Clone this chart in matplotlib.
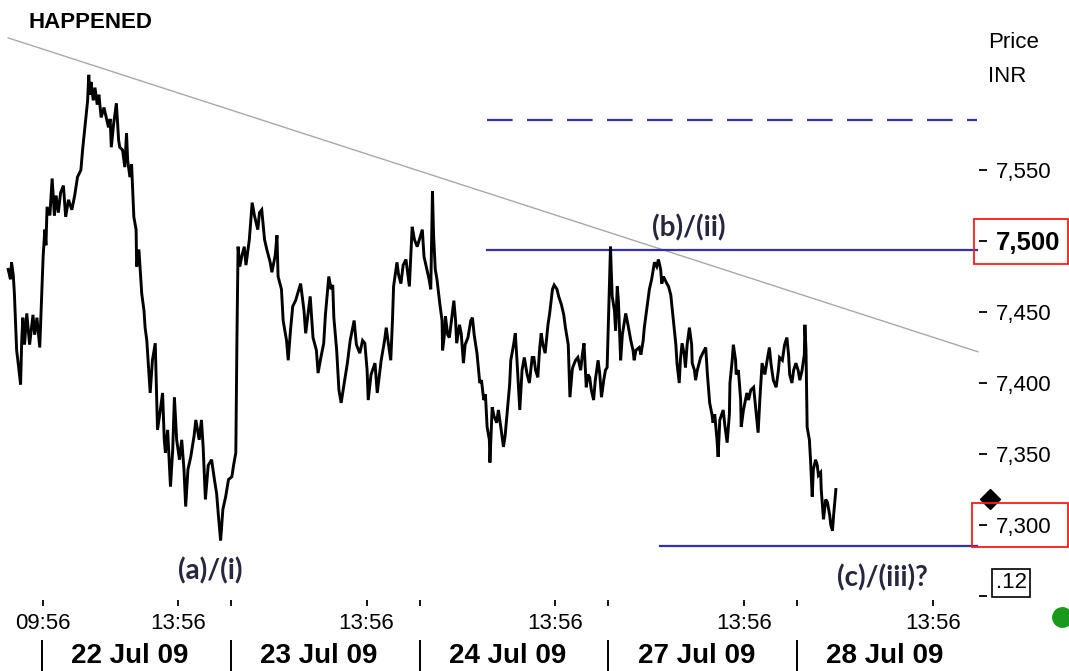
import matplotlib
matplotlib.use('Agg')
import matplotlib.pyplot as plt
from matplotlib import transforms
from matplotlib.patches import Rectangle

plt.rcParams['font.family'] = ['Liberation Sans', 'DejaVu Sans']

# ---------------- data ----------------
# x: trading minutes since 22 Jul 09 09:55 (each session 335 min, negative = 21 Jul)
minutes = [
    -60, -56, -54, -51, -49, -45, -42, -38, -36, -34, -31, -27, -22, -16, -13, -9, -4,
    2, 5, 7, 9, 14, 18, 22, 25, 29, 33, 38, 42, 47, 53, 58, 63, 69, 72, 78, 81,
    83, 85, 87, 91, 94, 98, 101, 105, 110, 118, 121, 123, 127, 132, 136, 138, 143, 147, 150, 152,
    156, 159, 163, 167, 168, 172, 177, 181, 183, 186, 192, 196, 201, 205, 210, 214, 217, 219, 223, 228,
    232, 235, 239, 244, 248, 252, 255, 259, 264, 270, 273, 279, 283, 286, 290, 295, 301, 306, 310, 313,
    317, 321, 326, 331,
    337, 340, 344, 346, 348, 351, 355, 359, 362, 368, 373, 377, 383, 386, 390, 395, 399, 405, 408, 414,
    417, 419, 425, 428, 434, 437, 441, 445, 450, 456, 459, 465, 468, 472, 476, 479, 481, 487, 490, 494,
    500, 503, 509, 513, 516, 518, 523, 527, 531, 536, 542, 547, 554, 558, 564, 569, 573, 577, 579, 584,
    591, 595, 599, 602, 608, 611, 615, 619, 622, 624, 630, 633, 637, 641, 646, 650, 652, 655, 657, 661,
    666,
    672, 675, 678, 683, 687, 690, 693, 695, 698, 701, 706, 710, 711, 715, 716, 720, 723, 728, 731, 734,
    736, 741, 744, 748, 751, 756, 761, 764, 767, 772, 777, 780, 784, 787, 790, 794, 795, 799, 802, 807,
    810, 815, 819, 822, 827, 830, 832, 837, 840, 843, 848, 852, 856, 861, 865, 870, 873, 876, 880, 883,
    886, 889, 893, 898, 901, 906, 909, 914, 917, 922, 926, 929, 934, 937, 941, 942, 947, 951, 956, 959,
    962, 966, 969, 972, 975, 979, 982, 987, 990, 993, 997, 1000, 1003,
    1009, 1010, 1012, 1016, 1018, 1021, 1023, 1027, 1030, 1036, 1040, 1045, 1049, 1051, 1054, 1060, 1063, 1067, 1069, 1073,
    1078, 1082, 1087, 1091, 1094, 1098, 1100, 1103, 1109, 1112, 1116, 1122, 1125, 1127, 1131, 1133, 1136, 1140, 1142, 1145,
    1149, 1153, 1154, 1158, 1160, 1163, 1169, 1174, 1178, 1181, 1185, 1189, 1191, 1194, 1198, 1200, 1203, 1209, 1212, 1216,
    1220, 1221, 1225, 1227, 1231, 1232, 1236, 1240, 1241, 1245, 1251, 1254, 1258, 1263, 1267, 1271, 1274, 1278, 1283, 1287,
    1291, 1294, 1298, 1303, 1307, 1309, 1314, 1318, 1322, 1325, 1327, 1331, 1334, 1338,
    1342, 1345, 1349, 1353, 1354, 1356, 1358, 1362, 1364, 1367, 1369, 1373, 1376, 1378, 1382, 1383, 1387, 1391, 1394, 1398,
    1400, 1403, 1405, 1409,
]
prices = [
    7480, 7473, 7485, 7476, 7463, 7423, 7413, 7399, 7430, 7446, 7427, 7449, 7427, 7448, 7434, 7446, 7425,
    7489, 7508, 7497, 7524, 7518, 7544, 7518, 7532, 7520, 7534, 7539, 7517, 7529, 7522, 7532, 7545, 7550, 7564, 7587, 7599,
    7617, 7603, 7612, 7599, 7608, 7596, 7603, 7587, 7594, 7580, 7586, 7566, 7582, 7597, 7571, 7566, 7564, 7552, 7576, 7557,
    7545, 7554, 7517, 7508, 7482, 7494, 7463, 7451, 7439, 7430, 7393, 7416, 7428, 7367, 7381, 7393, 7360, 7351, 7367, 7327,
    7353, 7390, 7360, 7346, 7360, 7339, 7313, 7339, 7348, 7363, 7374, 7360, 7374, 7355, 7318, 7342, 7346, 7332, 7322, 7307,
    7289, 7311, 7320, 7332,
    7334, 7342, 7351, 7432, 7496, 7482, 7490, 7496, 7483, 7501, 7527, 7518, 7508, 7520, 7522, 7501, 7494, 7485, 7478, 7490,
    7504, 7475, 7466, 7444, 7430, 7416, 7437, 7454, 7458, 7466, 7470, 7451, 7435, 7448, 7461, 7444, 7432, 7423, 7407, 7416,
    7428, 7448, 7475, 7466, 7469, 7446, 7423, 7395, 7386, 7399, 7414, 7430, 7444, 7427, 7421, 7430, 7428, 7409, 7388, 7406,
    7414, 7393, 7406, 7416, 7430, 7439, 7427, 7416, 7444, 7468, 7485, 7476, 7470, 7483, 7487, 7474, 7468, 7494, 7510, 7501,
    7496,
    7504, 7508, 7489, 7480, 7473, 7466, 7535, 7504, 7480, 7473, 7456, 7444, 7423, 7437, 7447, 7434, 7432, 7448, 7458, 7444,
    7428, 7441, 7435, 7414, 7427, 7432, 7444, 7446, 7434, 7421, 7400, 7402, 7388, 7392, 7369, 7360, 7344, 7383, 7377, 7372,
    7381, 7367, 7355, 7363, 7386, 7399, 7416, 7427, 7435, 7416, 7381, 7409, 7418, 7406, 7400, 7418, 7418, 7409, 7404, 7423,
    7435, 7427, 7421, 7441, 7449, 7466, 7469, 7466, 7461, 7455, 7448, 7439, 7427, 7390, 7409, 7411, 7416, 7418, 7409, 7420,
    7428, 7397, 7406, 7404, 7395, 7388, 7402, 7416, 7406, 7390, 7402, 7409, 7411,
    7496, 7483, 7461, 7451, 7437, 7468, 7458, 7416, 7434, 7449, 7441, 7430, 7423, 7416, 7423, 7425, 7420, 7430, 7439, 7451,
    7466, 7473, 7485, 7482, 7487, 7480, 7470, 7475, 7470, 7468, 7462, 7439, 7427, 7414, 7400, 7416, 7428, 7420, 7411, 7427,
    7439, 7427, 7414, 7409, 7402, 7409, 7418, 7422, 7425, 7406, 7386, 7378, 7372, 7378, 7360, 7348, 7374, 7381, 7370, 7358,
    7378, 7400, 7416, 7427, 7416, 7406, 7409, 7388, 7369, 7381, 7393, 7388, 7395, 7397, 7381, 7365, 7388, 7414, 7406, 7416,
    7425, 7413, 7402, 7397, 7409, 7418, 7416, 7427, 7432, 7420, 7406, 7400, 7409, 7414,
    7409, 7402, 7409, 7420, 7441, 7423, 7369, 7360, 7346, 7320, 7339, 7346, 7342, 7335, 7337, 7325, 7304, 7318, 7316, 7307,
    7300, 7296, 7307, 7325,
]

session_len = 335
day_starts = [0, 335, 670, 1005, 1340]
date_labels = ['22 Jul 09', '23 Jul 09', '24 Jul 09', '27 Jul 09', '28 Jul 09']
time_ticks = [1, 241, 576, 911, 1246, 1581]
time_labels = ['09:56', '13:56', '13:56', '13:56', '13:56', '13:56']

y_ticks = [7250, 7300, 7350, 7400, 7450, 7500, 7550]
y_labels = ['', '7,300', '7,350', '7,400', '7,450', '7,500', '7,550']

trend_x = [-60, 1661]
trend_y = [7643, 7422]
target_dashed = 7585
level_b = 7494
level_c = 7285
level_b_start = 790
level_c_start = 1097
line_end = 1660
last_price = 7318

annotations = [('(a)/(i)', 298, 7268), ('(b)/(ii)', 1147, 7509), ('(c)/(iii)?', 1491, 7263)]

# ---------------- layout ----------------
W, H = 1069, 671
fig = plt.figure(figsize=(W / 100, H / 100), dpi=100)
fig.patch.set_facecolor('white')


def fx(px):
    return px / W


def fy(py):
    return 1 - py / H


AX_RIGHT = 979
AX_BOTTOM = 600
ax = fig.add_axes([0, fy(AX_BOTTOM), fx(AX_RIGHT), 1 - fy(AX_BOTTOM)])
ppm = 755 / 1340.0
ax.set_xlim((0 - 42) / ppm, (AX_RIGHT - 42) / ppm)
ax.set_ylim(7247.2, 7669.7)
for s in ax.spines.values():
    s.set_visible(False)

BLUE = '#3030b0'
# trend line
ax.plot(trend_x, trend_y, color='#a8a8a8', lw=1.0, zorder=1)
# levels
ax.plot([level_b_start, line_end], [target_dashed] * 2, color=BLUE, lw=1.6,
        linestyle=(0, (11.5, 6.5)), zorder=2)
ax.plot([level_b_start, line_end], [level_b] * 2, color=BLUE, lw=1.6, zorder=2)
ax.plot([level_c_start, line_end], [level_c] * 2, color=BLUE, lw=1.6, zorder=2)

# price
ax.plot(minutes, prices, color='black', lw=2.1, zorder=3, solid_joinstyle='miter')

# annotations
for txt, x, y in annotations:
    ax.text(x, y, txt, ha='center', va='center', fontsize=20, fontweight='bold',
            family=['Lato', 'DejaVu Sans'], color='#26263f')

# y axis
ax.yaxis.tick_right()
ax.set_yticks(y_ticks)
ax.set_yticklabels(y_labels)
ax.tick_params(axis='y', direction='out', length=6, width=1.3, pad=6,
               labelsize=16, colors='black', right=True, left=False)
for lab in ax.get_yticklabels():
    if lab.get_text() == '7,500':
        lab.set_fontweight('bold')
        lab.set_fontsize(18.5)

# x axis
ax.set_xticks(time_ticks)
ax.set_xticklabels(time_labels)
ax.set_xticks(day_starts[1:], minor=True)
ax.tick_params(axis='x', which='major', direction='out', length=4, width=1.3,
               pad=5.5, labelsize=16)
ax.tick_params(axis='x', which='minor', direction='out', length=4, width=1.3)

# date row
tb = transforms.blended_transform_factory(ax.transData, fig.transFigure)
for ds, lab in zip(day_starts, date_labels):
    ax.plot([ds, ds], [fy(641), fy(671)], color='black', lw=1.4, transform=tb, clip_on=False)
    ax.text(ds + 52, fy(656), lab, transform=tb, ha='left', va='center',
            fontsize=20, fontweight='bold')

# header texts
fig.text(fx(28), fy(22), 'HAPPENED', ha='left', va='center', fontsize=16, fontweight='bold')
fig.text(fx(988), fy(43), 'Price', ha='left', va='center', fontsize=16)
fig.text(fx(988), fy(77), 'INR', ha='left', va='center', fontsize=16)

# red price tags
for (x0, y0, y1) in [(974, 219, 264), (972, 503, 547)]:
    fig.add_artist(Rectangle((fx(x0), fy(y1)), fx(1068) - fx(x0), fy(y0) - fy(y1),
                             transform=fig.transFigure, fill=False, edgecolor='#ff1a1a', lw=1.3))

# last-price diamond
tr = transforms.blended_transform_factory(fig.transFigure, ax.transData)
ax.plot([fx(990)], [last_price], marker='D', markersize=10, color='black',
        transform=tr, clip_on=False)

# small boxed label
fig.text(fx(1011), fy(583), '.12', ha='center', va='center', fontsize=16,
         bbox=dict(boxstyle='square,pad=0.15', facecolor='white', edgecolor='black', lw=1.2))

# green status dot
ax.plot([fx(1062)], [fy(617)], marker='o', markersize=14, color='#1a9a1a',
        transform=fig.transFigure, clip_on=False)

fig.savefig('out.png', dpi=100)
